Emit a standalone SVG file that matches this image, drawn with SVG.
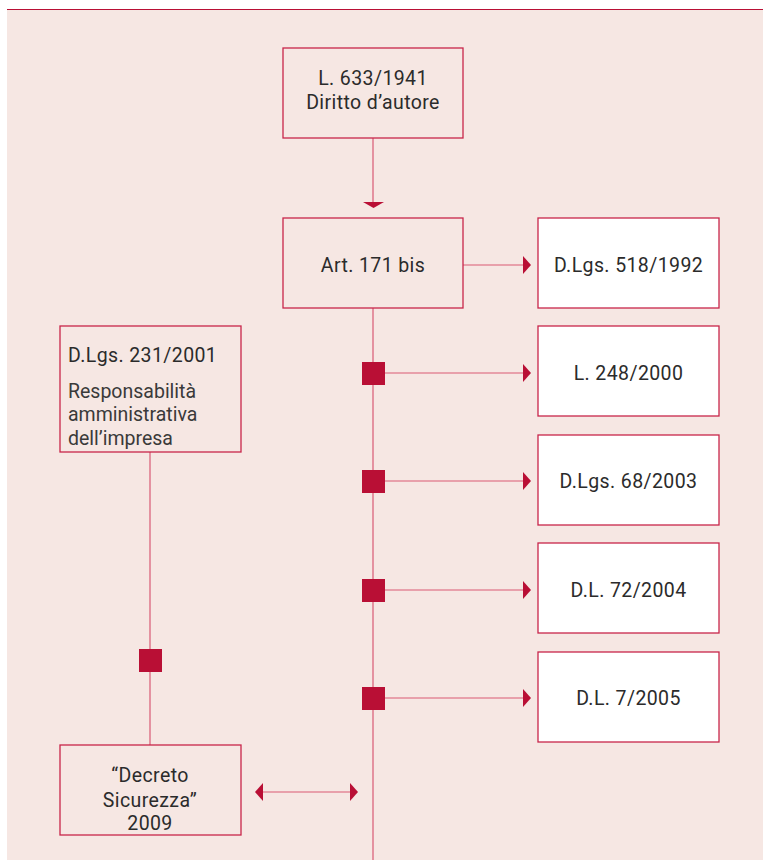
<svg xmlns="http://www.w3.org/2000/svg" width="763" height="860" viewBox="0 0 763 860">
<defs>
<style>
.bg{fill:#f6e7e3}
.box{fill:#f6e7e3;stroke:#c8254a;stroke-width:1.3}
.wbox{fill:#ffffff;stroke:#c8254a;stroke-width:1.3}
.ln{stroke:#d95a74;stroke-width:1.2;fill:none}
.sq{fill:#b90f35}
.ah{fill:#b90f35}
text{font-family:"Roboto","Liberation Sans",sans-serif;font-size:19.5px;letter-spacing:0.4px;fill:#2b2b2b}
.c{text-anchor:middle}
.g{fill:#3a3a3a;letter-spacing:0}
</style>
</defs>
<rect class="bg" x="7" y="10" width="756" height="850"/>
<line x1="7" y1="9.5" x2="763" y2="9.5" stroke="#b90f35" stroke-width="1.2"/>
<g id="connectors">
<line class="ln" x1="373" y1="138" x2="373" y2="203"/>
<polygon class="ah" points="363,202 384,202 373.5,208"/>
<line class="ln" x1="373" y1="308" x2="373" y2="860"/>
<line class="ln" x1="463" y1="265" x2="524" y2="265"/>
<polygon class="ah" points="523,256 531,265 523,274"/>
<line class="ln" x1="373" y1="373" x2="524" y2="373"/>
<polygon class="ah" points="523,364 531,373 523,382"/>
<line class="ln" x1="373" y1="481" x2="524" y2="481"/>
<polygon class="ah" points="523,472 531,481 523,490"/>
<line class="ln" x1="373" y1="590" x2="524" y2="590"/>
<polygon class="ah" points="523,581 531,590 523,599"/>
<line class="ln" x1="373" y1="698" x2="524" y2="698"/>
<polygon class="ah" points="523,689 531,698 523,707"/>
<rect class="sq" x="362" y="362" width="23" height="23"/>
<rect class="sq" x="362" y="470" width="23" height="23"/>
<rect class="sq" x="362" y="579" width="23" height="23"/>
<rect class="sq" x="362" y="687" width="23" height="23"/>
<line class="ln" x1="150" y1="452" x2="150" y2="745"/>
<rect class="sq" x="139" y="649" width="23" height="23"/>
<line class="ln" x1="258" y1="792" x2="355" y2="792"/>
<polygon class="ah" points="263,783 255,792 263,801"/>
<polygon class="ah" points="350,783 358,792 350,801"/>
</g>
<g id="n1">
<rect class="box" x="283" y="48" width="180" height="90"/>
<text class="c" x="373" y="85">L. 633/1941</text>
<text class="c" x="373" y="109">Diritto d’autore</text>
</g>
<g id="n2">
<rect class="box" x="283" y="218" width="180" height="90"/>
<text class="c" x="373" y="272">Art. 171 bis</text>
</g>
<g id="n3">
<rect class="wbox" x="538" y="218" width="181" height="90"/>
<text class="c" x="628.5" y="272">D.Lgs. 518/1992</text>
</g>
<g id="n4">
<rect class="wbox" x="538" y="326" width="181" height="90"/>
<text class="c" x="628.5" y="380">L. 248/2000</text>
</g>
<g id="n5">
<rect class="wbox" x="538" y="435" width="181" height="90"/>
<text class="c" x="628.5" y="488">D.Lgs. 68/2003</text>
</g>
<g id="n6">
<rect class="wbox" x="538" y="543" width="181" height="90"/>
<text class="c" x="628.5" y="597">D.L. 72/2004</text>
</g>
<g id="n7">
<rect class="wbox" x="538" y="652" width="181" height="90"/>
<text class="c" x="628.5" y="705">D.L. 7/2005</text>
</g>
<g id="n8">
<rect class="box" x="60" y="326" width="181" height="126"/>
<text x="68" y="362">D.Lgs. 231/2001</text>
<text class="g" x="68" y="398">Responsabilità</text>
<text class="g" x="68" y="421">amministrativa</text>
<text class="g" x="68" y="445">dell’impresa</text>
</g>
<g id="n9">
<rect class="box" x="60" y="745" width="181" height="90"/>
<text class="c" x="150" y="782">“Decreto</text>
<text class="c" x="150" y="807">Sicurezza”</text>
<text class="c" x="150" y="830">2009</text>
</g>
</svg>
